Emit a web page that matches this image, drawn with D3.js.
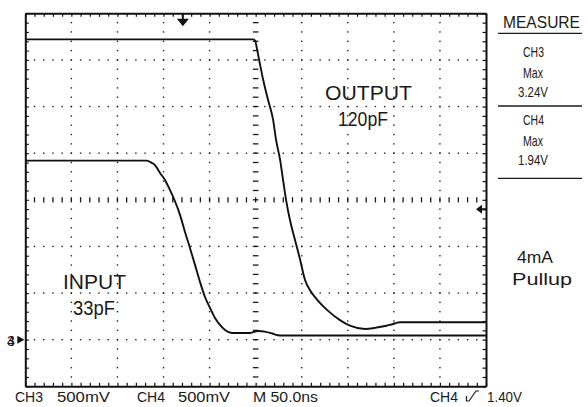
<!DOCTYPE html>
<html><head><meta charset="utf-8">
<script src="https://cdn.jsdelivr.net/npm/d3@7/dist/d3.min.js"></script>
<style>
html,body{margin:0;padding:0;background:#fff;}
svg{display:block;}
text{font-family:"Liberation Sans",Arial,sans-serif;fill:#1a1a1a;}
</style>
</head><body>
<svg id="c" width="588" height="407"></svg>
<script>
// ---- data (time in ns, voltage in V) ----
const outputTime  = [0, 247, 249.3, 251.6, 253.8, 258.1, 263.5, 268.9, 272.2, 276.5, 279.8, 283.0, 287.3, 292.7, 298.2, 303.6, 309.0, 316.6, 327.4, 341.5, 352.4, 368.6, 379.5, 390.4, 395.8, 406.6, 500];
const outputVolts = [3.22, 3.22, 3.21, 3.11, 3.00, 2.79, 2.57, 2.36, 2.14, 1.93, 1.71, 1.50, 1.28, 1.07, 0.86, 0.64, 0.53, 0.43, 0.32, 0.21, 0.15, 0.115, 0.126, 0.147, 0.158, 0.187, 0.187];
const inputTime   = [0, 132.1, 135.3, 140.8, 146.2, 151.6, 157.0, 161.9, 167.9, 173.3, 178.7, 184.2, 189.6, 195.0, 200.5, 205.9, 211.3, 216.7, 224.3, 243.9, 252.6, 261.3, 267.8, 276.5, 500];
const inputVolts  = [1.92, 1.92, 1.906, 1.873, 1.788, 1.713, 1.606, 1.498, 1.338, 1.155, 0.984, 0.802, 0.619, 0.458, 0.340, 0.233, 0.158, 0.104, 0.072, 0.072, 0.093, 0.083, 0.066, 0.045, 0.045];

const timeDomain = [0, 500];      // 10 div x 50 ns
const voltDomain = [-0.5, 3.5];   // 8 div x 500 mV, ground 3 div below centre
const timePerDiv = 50, voltPerDiv = 0.5, minorPerDiv = 5;
const triggerTime = 171, triggerLevel = 1.40, groundLevel = 0;

const measureTitle = "MEASURE";
const measureItems = [["CH3", "Max", "3.24V"], ["CH4", "Max", "1.94V"]];
const statusLabels = ["CH3", "500mV", "CH4", "500mV", "M 50.0ns", "CH4", "1.40V"];
const traceLabels  = [["OUTPUT", "120pF"], ["INPUT", "33pF"]];
const noteLabels   = ["4mA", "Pullup"];
const groundLabels = ["3", "4"];

// ---- drawing ----
const svg = d3.select("#c");
svg.append("rect").attr("width", 588).attr("height", 407).attr("fill", "#fff");

const x = d3.scaleLinear().domain(timeDomain).range([25.3, 486]);
const y = d3.scaleLinear().domain(voltDomain).range([386.3, 13.3]);

const tMinorStep = timePerDiv / minorPerDiv, vMinorStep = voltPerDiv / minorPerDiv;
const xMinor = d3.range(0, Math.round((timeDomain[1] - timeDomain[0]) / tMinorStep) + 1).map(i => timeDomain[0] + i * tMinorStep);
const yMinor = d3.range(0, Math.round((voltDomain[1] - voltDomain[0]) / vMinorStep) + 1).map(i => +(voltDomain[0] + i * vMinorStep).toFixed(3));
const xMajor = d3.range(1, 10).map(i => timeDomain[0] + i * timePerDiv);
const yMajor = d3.range(1, 8).map(i => +(voltDomain[0] + i * voltPerDiv).toFixed(3));
const xCenter = (timeDomain[0] + timeDomain[1]) / 2;
const yCenter = (voltDomain[0] + voltDomain[1]) / 2;

// dotted graticule
const dots = svg.append("g").attr("fill", "#222");
xMajor.filter(t => t !== xCenter).forEach(t => {
  yMinor.slice(1, -1).forEach(v => {
    dots.append("rect").attr("x", x(t) - 0.7).attr("y", y(v) - 0.7).attr("width", 1.4).attr("height", 1.4);
  });
});
yMajor.filter(v => Math.abs(v - yCenter) > 1e-6).forEach(v => {
  xMinor.slice(1, -1).forEach(t => {
    dots.append("rect").attr("x", x(t) - 0.7).attr("y", y(v) - 0.7).attr("width", 1.4).attr("height", 1.4);
  });
});

// centre lines with minor dashes
const cen = svg.append("g").attr("stroke", "#1a1a1a").attr("stroke-width", 1.3);
yMinor.slice(1, -1).forEach(v => {
  cen.append("line").attr("x1", x(xCenter) - 2.8).attr("x2", x(xCenter) + 2.8).attr("y1", y(v)).attr("y2", y(v));
});
xMinor.slice(1, -1).forEach(t => {
  cen.append("line").attr("x1", x(t)).attr("x2", x(t)).attr("y1", y(yCenter) - 2.6).attr("y2", y(yCenter) + 2.6);
});

// border with minor ticks via axes
function styleAxis(g) {
  g.select(".domain").attr("stroke", "#111").attr("stroke-width", 2);
  g.selectAll(".tick line").attr("stroke", "#111").attr("stroke-width", 1.2);
  g.selectAll(".tick text").remove();
}
svg.append("g").attr("transform", `translate(0,${y(voltDomain[1])})`)
  .call(d3.axisBottom(x).tickValues(xMinor).tickSize(3.5).tickSizeOuter(0).tickFormat("")).call(styleAxis);
svg.append("g").attr("transform", `translate(0,${y(voltDomain[0])})`)
  .call(d3.axisTop(x).tickValues(xMinor).tickSize(3.5).tickSizeOuter(0).tickFormat("")).call(styleAxis);
svg.append("g").attr("transform", `translate(${x(timeDomain[0])},0)`)
  .call(d3.axisRight(y).tickValues(yMinor).tickSize(3.5).tickSizeOuter(0).tickFormat("")).call(styleAxis);
svg.append("g").attr("transform", `translate(${x(timeDomain[1])},0)`)
  .call(d3.axisLeft(y).tickValues(yMinor).tickSize(3.5).tickSizeOuter(0).tickFormat("")).call(styleAxis);

// traces
const line = d3.line().x(d => x(d[0])).y(d => y(d[1])).curve(d3.curveMonotoneX);
[[outputTime, outputVolts], [inputTime, inputVolts]].forEach(([ts, vs]) => {
  svg.append("path").datum(ts.map((t, i) => [t, vs[i]]))
    .attr("d", line).attr("fill", "none").attr("stroke", "#111").attr("stroke-width", 1.9)
    .attr("stroke-linejoin", "round");
});

// trigger position marker (top)
const tx = x(triggerTime), ty = y(voltDomain[1]);
svg.append("path").attr("d", `M${tx - 1},${ty} L${tx + 1},${ty} L${tx + 1},${ty + 5.5} L${tx + 6},${ty + 5.5} L${tx},${ty + 13} L${tx - 6},${ty + 5.5} L${tx - 1},${ty + 5.5} Z`).attr("fill", "#111");

// trigger level marker (right)
const rx = x(timeDomain[1]), ry = y(triggerLevel);
svg.append("path").attr("d", `M${rx - 10},${ry} L${rx - 4},${ry - 4.5} L${rx - 4},${ry - 1} L${rx},${ry - 1} L${rx},${ry + 1} L${rx - 4},${ry + 1} L${rx - 4},${ry + 4.5} Z`).attr("fill", "#111");

// ground marker (left)
const gx = x(timeDomain[0]), gy = y(groundLevel);
svg.append("path").attr("d", `M${gx - 8},${gy - 4} L${gx - 1},${gy} L${gx - 8},${gy + 4} Z`).attr("fill", "#111");
groundLabels.forEach(s => {
  svg.append("text").attr("x", 7).attr("y", gy + 6).attr("font-size", 14).text(s);
});

// text helper
function label(s, x0, y0, size, len) {
  svg.append("text").attr("x", x0).attr("y", y0).attr("font-size", size)
    .attr("textLength", len).attr("lengthAdjust", "spacingAndGlyphs").text(s);
}

// status line
const statusPos = [[15, 28], [57, 53], [137, 28], [178, 52], [253, 65], [430, 28], [487, 35]];
statusLabels.forEach((s, i) => label(s, statusPos[i][0], 402, 14, statusPos[i][1]));
svg.append("path").attr("d", "M466.5,396 L466.5,401 L469,401 L476,391 L479,391")
  .attr("fill", "none").attr("stroke", "#1a1a1a").attr("stroke-width", 1.2);

// measure panel
label(measureTitle, 503, 28, 16, 77);
const rule = y0 => svg.append("line").attr("x1", 498).attr("x2", 582).attr("y1", y0).attr("y2", y0)
  .attr("stroke", "#1a1a1a").attr("stroke-width", 1.3);
rule(33.3);
const itemTop = [0, 67.5];
measureItems.forEach((it, k) => {
  label(it[0], 523, 57 + itemTop[k], 14.5, 21);
  label(it[1], 523, 78 + itemTop[k], 14.5, 20);
  label(it[2], 518, 97 + itemTop[k], 14.5, 30);
});
rule(106); rule(178.3);

// notes
label(noteLabels[0], 517, 263, 16, 36);
label(noteLabels[1], 512, 285, 16, 60);

// trace labels
label(traceLabels[0][0], 325, 100, 21, 87);
label(traceLabels[0][1], 338, 126, 21, 50);
label(traceLabels[1][0], 63, 289, 21, 63);
label(traceLabels[1][1], 73, 315, 21, 42);
</script>
</body></html>
